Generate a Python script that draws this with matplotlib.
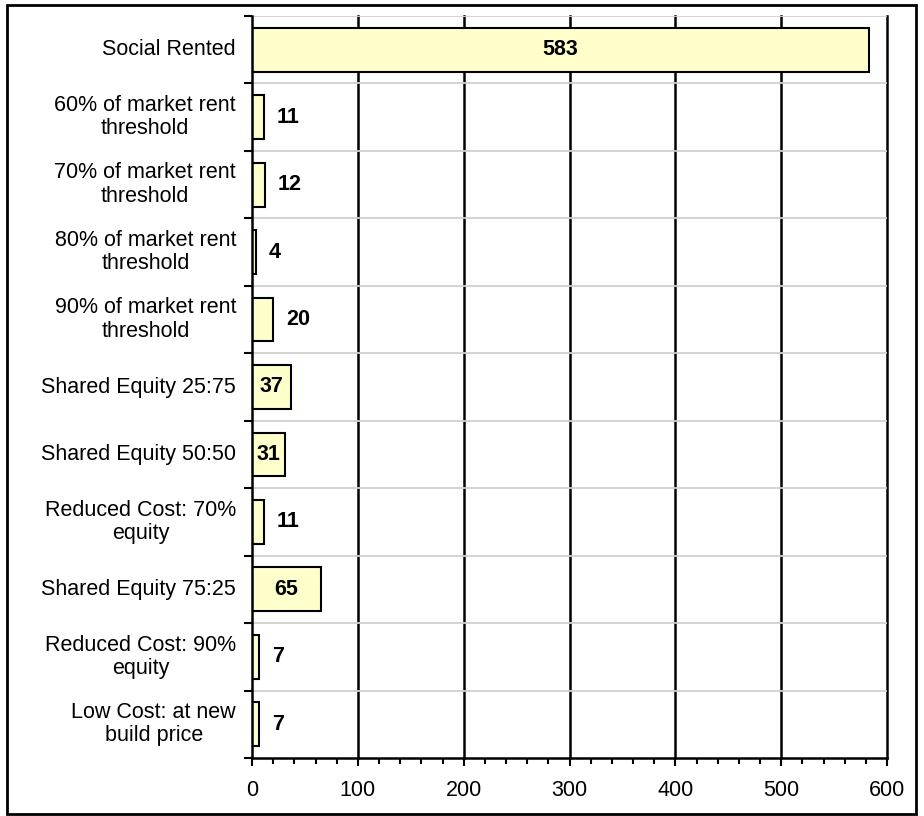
import numpy as np
import matplotlib.pyplot as plt
from matplotlib.patches import Rectangle
from matplotlib.ticker import MultipleLocator, FixedLocator, NullFormatter

plt.rcParams['font.family'] = ['Liberation Sans', 'DejaVu Sans']

categories = ['Social Rented',
              '60% of market rent\nthreshold',
              '70% of market rent\nthreshold',
              '80% of market rent\nthreshold',
              '90% of market rent\nthreshold',
              'Shared Equity 25:75',
              'Shared Equity 50:50',
              'Reduced Cost: 70%\nequity',
              'Shared Equity 75:25',
              'Reduced Cost: 90%\nequity',
              'Low Cost: at new\nbuild price']
counts = [583, 11, 12, 4, 20, 37, 31, 11, 65, 7, 7]
# labels drawn inside the bar for these
inside = [True, False, False, False, False, True, True, False, True, False, False]

FS = 15.5

fig = plt.figure(figsize=(9.24, 8.16), dpi=100)
ax = fig.add_axes([252/924, 1 - 758/816, (887-252)/924, (758-16)/816])

n = len(categories)
y = np.arange(n)
bars = ax.barh(y, counts, height=0.65, color='#FFFFCC', edgecolor='black', linewidth=1.5, zorder=3)

ax.set_xlim(0, 600)
ax.set_ylim(n - 0.5, -0.5)

# vertical gridlines at the major x ticks
for xv in range(100, 601, 100):
    ax.axvline(xv, color='black', lw=1.8, zorder=1, clip_on=False)
# light separators between categories
for b in np.arange(-0.5, n - 1, 1):
    ax.axhline(b, color='#D0D0D0', lw=1.3, zorder=1)

ax.yaxis.set_major_locator(FixedLocator(np.arange(-0.5, n + 0.5, 1)))
ax.yaxis.set_major_formatter(NullFormatter())
ax.tick_params(axis='y', which='major', length=6, width=1.5, direction='out')
for yi, lab in zip(y, categories):
    ax.text(-0.025, yi, lab, transform=ax.get_yaxis_transform(), ha='right', va='center',
            fontsize=FS, multialignment='center', linespacing=1.15)

ax.xaxis.set_major_locator(MultipleLocator(100))
ax.xaxis.set_minor_locator(MultipleLocator(20))
ax.tick_params(axis='x', which='major', length=6, width=1.5, labelsize=FS, pad=10)
ax.tick_params(axis='x', which='minor', length=4, width=1.5)

for s in ['top', 'right']:
    ax.spines[s].set_visible(False)
for s in ['left', 'bottom']:
    ax.spines[s].set_linewidth(1.8)
    ax.spines[s].set_zorder(4)

for bar, v, ins in zip(bars, counts, inside):
    cy = bar.get_y() + bar.get_height() / 2
    if ins:
        ax.text(v / 2, cy, str(v), ha='center', va='center', fontsize=FS, fontweight='bold', zorder=5)
    else:
        ax.text(v + 12, cy, str(v), ha='left', va='center', fontsize=FS, fontweight='bold', zorder=5)

# outer frame
fig.patches.append(Rectangle((7/924, 1 - 814/816), (916-7)/924, (814-5)/816,
                             transform=fig.transFigure, fill=False, edgecolor='black', lw=2))

fig.savefig('out.png', dpi=100)
